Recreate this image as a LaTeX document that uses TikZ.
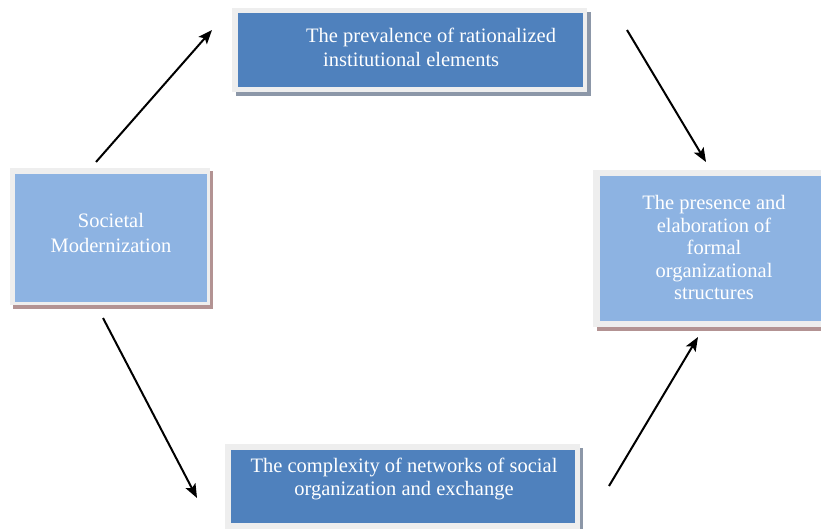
\documentclass[tikz,border=0pt]{standalone}
\usepackage{fontspec}
\setmainfont{Liberation Serif}
\usetikzlibrary{arrows.meta}
\definecolor{darkblue}{HTML}{4F81BD}
\definecolor{lightblue}{HTML}{8DB3E2}
\definecolor{framegray}{HTML}{EEEEEE}
\definecolor{brownshadow}{HTML}{B39393}
\definecolor{grayshadow}{HTML}{8C97A8}
\tikzset{
  darkbox/.style={fill=darkblue, draw=none, inner sep=0pt},
  lightbox/.style={fill=lightblue, draw=none, inner sep=0pt},
  boxtext/.style={text=white, inner sep=0pt, font=\fontsize{20.5}{24}\selectfont, align=center},
  flow/.style={line width=2pt, -{Stealth[length=14pt,width=11pt,inset=3pt]}}
}
\begin{document}
\begin{tikzpicture}[x=1pt,y=-1pt]
\useasboundingbox (0,0) rectangle (821,529);
\clip (0,0) rectangle (821,529);
\fill[white] (0,0) rectangle (821,529);
% Societal Modernization
\fill[brownshadow] (13,171) rectangle (213,309);
\fill[framegray] (10,168) rectangle (210,305);
\path (15,174) rectangle node[lightbox, minimum width=192pt, minimum height=128pt] (soc) {} (207,302);
\node[boxtext, font=\fontsize{20.5}{25}\selectfont] (soctext) at (111,233) {Societal\\Modernization};
% top box
\fill[grayshadow] (236,12) rectangle (591,96);
\fill[framegray] (232,8) rectangle (587,92);
\path (238,13) rectangle node[darkbox, minimum width=345pt, minimum height=74pt] (top) {} (583,87);
\node[boxtext, anchor=base west] (toptext1) at (306,43) {The prevalence of rationalized};
\node[boxtext, anchor=base west] (toptext2) at (323,67) {institutional elements};
% right box
\fill[brownshadow] (597,174) rectangle (830,331);
\fill[framegray] (593,170) rectangle (830,327);
\path (600,176) rectangle node[lightbox, minimum width=230pt, minimum height=145pt] (right) {} (830,321);
\node[boxtext, font=\fontsize{20.5}{22.5}\selectfont] (righttext) at (714,247.5) {The presence and\\elaboration of\\formal\\organizational\\structures};
% bottom box
\fill[grayshadow] (229,448) rectangle (583,535);
\fill[framegray] (225,444) rectangle (580,535);
\path (231,450) rectangle node[darkbox, minimum width=344pt, minimum height=73pt] (bottom) {} (575,523);
\node[boxtext, font=\fontsize{20.5}{23}\selectfont] (bottomtext) at (404,479) {The complexity of networks of social\\organization and exchange};
% arrows
\coordinate (a1s) at (96,162);
\coordinate (a1e) at (212,30);
\coordinate (a2s) at (627,30);
\coordinate (a2e) at (706,162);
\coordinate (a3s) at (103,318);
\coordinate (a3e) at (197,498);
\coordinate (a4s) at (609,486);
\coordinate (a4e) at (698,337);
\draw[flow] (a1s) -- (a1e);
\draw[flow] (a2s) -- (a2e);
\draw[flow] (a3s) -- (a3e);
\draw[flow] (a4s) -- (a4e);
\end{tikzpicture}
\end{document}
